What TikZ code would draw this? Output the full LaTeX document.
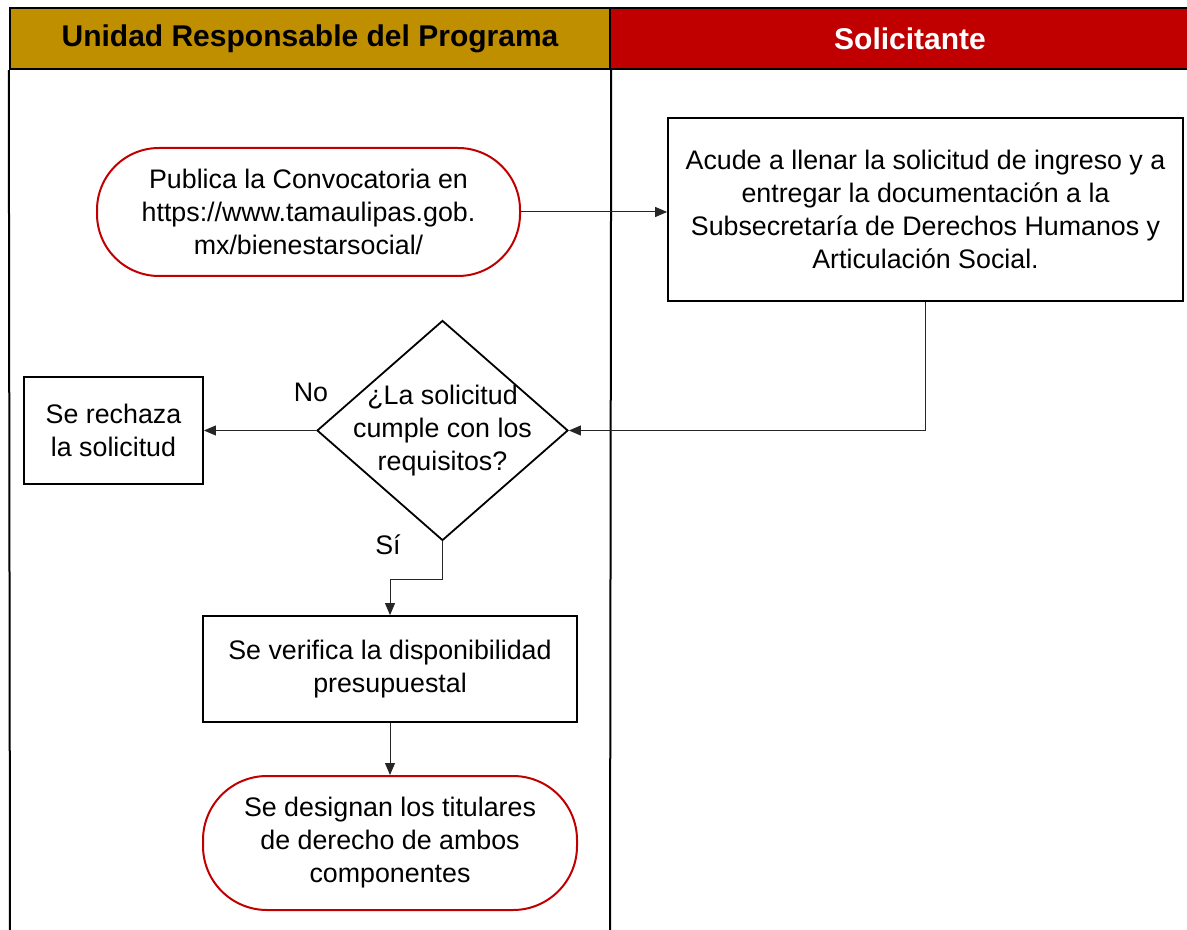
\documentclass[tikz,border=0pt]{standalone}
\usepackage{fontspec}
\setmainfont{Liberation Sans}
\usepackage{xcolor}
\usetikzlibrary{shapes.geometric, arrows.meta, positioning}

\definecolor{laneGold}{RGB}{191,143,0}
\definecolor{laneRed}{RGB}{192,0,0}

\begin{document}
\begin{tikzpicture}[
    x=0.5pt, y=-0.5pt,
    txt/.style={font=\fontsize{13.4}{16.5}\selectfont, align=center},
    hdr/.style={draw, line width=1.2pt, minimum height=30.5pt, font=\fontsize{15}{18}\selectfont\bfseries},
    box/.style={draw, line width=0.9pt, txt, inner sep=0pt},
    term/.style={draw=laneRed, line width=1pt, rounded corners=31pt, txt, inner sep=0pt},
    arr/.style={-{Triangle[length=6pt, width=5pt]}, line width=0.5pt, black!85},
]
\useasboundingbox (0,0) rectangle (1187,930);

% lanes
\node[hdr, fill=laneGold, minimum width=300pt] (hUnidad) at (310,38.5) {Unidad Responsable del Programa};
\node[hdr, fill=laneRed, text=white, minimum width=300pt] (hSolic) at (910,38.5) {Solicitante};
\draw[line width=1pt] (hUnidad.south west) -- (10,930);
\draw[line width=1pt] (hUnidad.south east) -- (610,930);

% Unidad Responsable side
\node[term, minimum width=211.5pt, minimum height=64pt] (pub) at (308.5,212) {Publica la Convocatoria en\\https://www.tamaulipas.gob.\\mx/bienestarsocial/};
\node[draw, diamond, line width=0.9pt, minimum width=125.5pt, minimum height=110pt, inner sep=0pt] (check) at (442.5,430.5) {};
\node[txt] (checkTxt) at (check.center) {¿La solicitud\\cumple con los\\requisitos?};
\node[box, minimum width=89.5pt, minimum height=53.5pt] (reject) at (113.5,430.5) {Se rechaza\\la solicitud};
\node[box, minimum width=187pt, minimum height=53pt] (verify) at (390,669) {Se verifica la disponibilidad\\presupuestal};
\node[term, minimum width=187pt, minimum height=67pt, rounded corners=32pt] (designa) at (390,843) {Se designan los titulares\\de derecho de ambos\\componentes};

% Solicitante side
\node[box, minimum width=257.5pt, minimum height=91.5pt] (acude) at (925.5,209.5) {Acude a llenar la solicitud de ingreso y a\\entregar la documentación a la\\Subsecretaría de Derechos Humanos y\\Articulación Social.};

\draw[arr] (pub.east) -- (pub.east -| acude.west);
\draw[arr] (acude.south) |- (check.east);
\draw[arr] (check.west) -- (reject.east);
\draw[arr] (check.south) -- ++(0,38) -| (verify.north);
\draw[arr] (verify.south) -- (designa.north);

\node[txt] (lblNo) at (311,392) {No};
\node[txt] (lblSi) at (388,545) {Sí};

\end{tikzpicture}
\end{document}
